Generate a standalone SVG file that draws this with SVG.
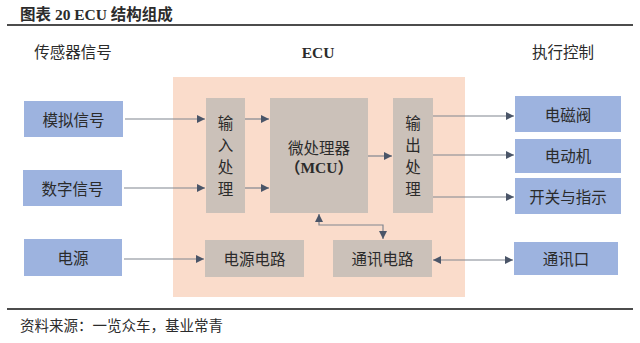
<svg xmlns="http://www.w3.org/2000/svg" width="640" height="343" viewBox="0 0 640 343">
<defs>
<style>
.cjk{font-family:"Liberation Serif","Noto Sans CJK SC",serif;fill:#2b2b2b;}
.lbl{font-size:15.5px;text-anchor:middle;dominant-baseline:central;}
.blue{fill:#9db3df;}
.gray{fill:#cbc1b9;}
.ln{stroke:#808690;stroke-width:1.2;fill:none;}
</style>
<marker id="ah" viewBox="0 0 10 10" refX="10" refY="5" markerWidth="8" markerHeight="8" markerUnits="userSpaceOnUse" orient="auto-start-reverse">
<path d="M0,0 L10,5 L0,10 z" fill="#4a5568"/>
</marker>
</defs>
<rect width="640" height="343" fill="#ffffff"/>
<text class="cjk" x="20" y="20" font-size="15.5" font-weight="bold">图表 20 ECU 结构组成</text>
<line x1="7" y1="25" x2="633" y2="25" stroke="#111" stroke-width="1.5"/>
<line x1="7" y1="309" x2="633" y2="309" stroke="#111" stroke-width="1.5"/>
<text class="cjk" x="20" y="331" font-size="14.5">资料来源：一览众车，基业常青</text>

<text class="cjk lbl" x="73" y="52" font-size="17.5">传感器信号</text>
<text class="cjk lbl" x="318" y="52" font-size="19" font-weight="bold">ECU</text>
<text class="cjk lbl" x="563" y="52" font-size="17.5">执行控制</text>

<rect x="173" y="77" width="292" height="220" fill="#fadccb"/>

<g id="analog"><rect class="blue" x="24" y="101" width="99" height="36"/><text class="cjk lbl" x="73.5" y="120">模拟信号</text></g>
<g id="digital"><rect class="blue" x="23" y="170" width="99" height="36"/><text class="cjk lbl" x="72.5" y="189">数字信号</text></g>
<g id="power"><rect class="blue" x="24" y="239" width="98" height="37"/><text class="cjk lbl" x="73" y="258">电源</text></g>

<g id="input"><rect class="gray" x="206" y="98" width="39" height="115"/>
<text class="cjk lbl" x="225.5" y="123">输</text><text class="cjk lbl" x="225.5" y="145">入</text><text class="cjk lbl" x="225.5" y="167">处</text><text class="cjk lbl" x="225.5" y="189">理</text></g>
<g id="mcu"><rect class="gray" x="270" y="98" width="98" height="115"/>
<text class="cjk lbl" x="319" y="148">微处理器</text><text class="cjk lbl" x="319" y="167" font-weight="bold">（MCU）</text></g>
<g id="output"><rect class="gray" x="393" y="98" width="40" height="115"/>
<text class="cjk lbl" x="413" y="123">输</text><text class="cjk lbl" x="413" y="145">出</text><text class="cjk lbl" x="413" y="167">处</text><text class="cjk lbl" x="413" y="189">理</text></g>
<g id="powercircuit"><rect class="gray" x="205" y="240" width="99" height="37"/><text class="cjk lbl" x="254.5" y="259">电源电路</text></g>
<g id="comm"><rect class="gray" x="333" y="240" width="99" height="37"/><text class="cjk lbl" x="382.5" y="259">通讯电路</text></g>

<g id="valve"><rect class="blue" x="515" y="96" width="106" height="36"/><text class="cjk lbl" x="568" y="115">电磁阀</text></g>
<g id="motor"><rect class="blue" x="515" y="139" width="106" height="34"/><text class="cjk lbl" x="568" y="156">电动机</text></g>
<g id="switch"><rect class="blue" x="515" y="178" width="106" height="36"/><text class="cjk lbl" x="568" y="197">开关与指示</text></g>
<g id="port"><rect class="blue" x="514" y="242" width="104" height="33"/><text class="cjk lbl" x="566" y="259">通讯口</text></g>

<g id="connectors">
<line class="ln" x1="125" y1="119" x2="205" y2="119" marker-end="url(#ah)"/>
<line class="ln" x1="124" y1="188" x2="205" y2="188" marker-end="url(#ah)"/>
<line class="ln" x1="245" y1="119" x2="269" y2="119" marker-end="url(#ah)"/>
<line class="ln" x1="245" y1="188" x2="269" y2="188" marker-end="url(#ah)"/>
<line class="ln" x1="368" y1="156" x2="392" y2="156" marker-end="url(#ah)"/>
<line class="ln" x1="433" y1="116" x2="514" y2="116" marker-end="url(#ah)"/>
<line class="ln" x1="433" y1="155" x2="514" y2="155" marker-end="url(#ah)"/>
<line class="ln" x1="433" y1="197" x2="514" y2="197" marker-end="url(#ah)"/>
<line class="ln" x1="124" y1="259" x2="204" y2="259" marker-end="url(#ah)"/>
<line class="ln" x1="433" y1="260" x2="513" y2="260" marker-start="url(#ah)" marker-end="url(#ah)"/>
<polyline class="ln" points="319,214 319,225 383,225 383,239" marker-start="url(#ah)" marker-end="url(#ah)"/>
</g>
</svg>
